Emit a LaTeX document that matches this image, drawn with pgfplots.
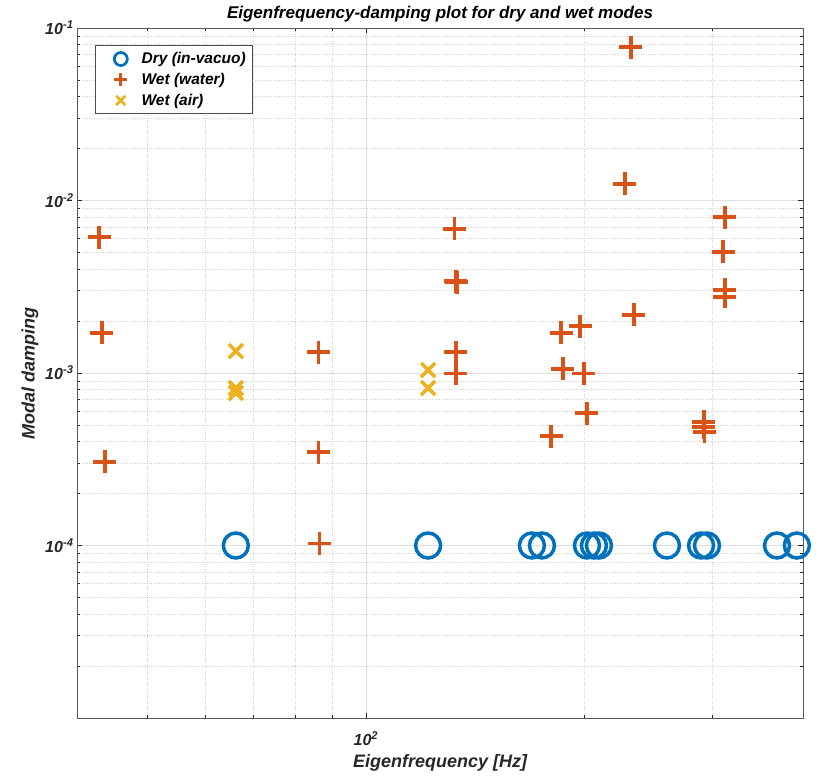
\documentclass[border=0pt]{standalone}
\usepackage{fontspec}
\setmainfont{Liberation Sans}
\usepackage{pgfplots}
\pgfplotsset{compat=1.18}
\definecolor{mblue}{rgb}{0,0.447,0.741}
\definecolor{morange}{rgb}{0.85,0.325,0.098}
\definecolor{myellow}{rgb}{0.929,0.694,0.125}
\definecolor{axgray}{rgb}{0.15,0.15,0.15}
\begin{document}
\begin{tikzpicture}
\begin{axis}[name=ax, scale only axis, width=726pt, height=690pt,
  xmode=log, ymode=log, xmin=40, xmax=400, ymin=1e-5, ymax=1e-1,
  xtick={100}, xticklabels={\bfseries\itshape 10\textsuperscript{2}},
  minor xtick={50,60,70,80,90,200,300},
  ytick={1e-4,1e-3,1e-2,1e-1},
  yticklabels={\bfseries\itshape 10\textsuperscript{-4},\bfseries\itshape 10\textsuperscript{-3},\bfseries\itshape 10\textsuperscript{-2},\bfseries\itshape 10\textsuperscript{-1}},
  minor ytick={2e-5,3e-5,4e-5,5e-5,6e-5,7e-5,8e-5,9e-5,2e-4,3e-4,4e-4,5e-4,6e-4,7e-4,8e-4,9e-4,2e-3,3e-3,4e-3,5e-3,6e-3,7e-3,8e-3,9e-3,2e-2,3e-2,4e-2,5e-2,6e-2,7e-2,8e-2,9e-2},
  grid=both, major grid style={gray!25, line width=0.6pt},
  minor grid style={gray!35, dotted, line width=0.6pt},
  tick align=inside, xtick pos=both, ytick pos=both,
  major tick length=5pt, minor tick length=3pt,
  every tick/.style={axgray, line width=0.6pt},
  axis line style={gray!70!black, line width=0.8pt},
  tick label style={font=\fontsize{16}{18}\selectfont, text=axgray},
  xticklabel style={yshift=-10pt},
  title={\bfseries\itshape Eigenfrequency-damping plot for dry and wet modes},
  title style={font=\fontsize{17}{19}\selectfont, yshift=-4pt},
  xlabel={\bfseries\itshape Eigenfrequency [Hz]},
  ylabel={\bfseries\itshape Modal damping},
  label style={font=\fontsize{18}{20}\selectfont, text=axgray},
  xlabel style={yshift=-2pt},
  legend style={at={(0.025,0.975)}, anchor=north west, draw=gray!60!black, line width=0.8pt,
    font=\bfseries\itshape\fontsize{15.5}{18}\selectfont, text=black, inner xsep=5pt, inner ysep=5pt,
    row sep=4pt},
  legend cell align=left,
  legend image code/.code={\draw[#1, mark size=6.5pt, line width=2.7pt] plot coordinates {(0.65cm,0cm)};\path (0cm,0cm) (1.25cm,0cm);},
  clip=false
]
\addplot[only marks, mark=o, color=mblue, line width=3.5pt, mark size=12.5pt] coordinates {
(66.2,1e-4) (121.8,1e-4) (169.3,1e-4) (174.8,1e-4) (201.6,1e-4) (206.1,1e-4) (209.4,1e-4)
(259.8,1e-4) (289.5,1e-4) (295.0,1e-4) (368.4,1e-4) (392.4,1e-4)
};
\addlegendentry{Dry (in-vacuo)}
\addplot[only marks, mark=+, color=morange, line width=3.5pt, mark size=11.5pt] coordinates {
(42.9,0.00614) (43.3,0.00171) (43.7,0.000305)
(86.0,0.00132) (86.0,0.000348) (86.3,0.000103)
(132.5,0.00684) (133.0,0.00341) (133.4,0.00336) (133.0,0.00132) (133.0,0.000993)
(179.9,0.000431) (185.7,0.00171) (186.8,0.001055) (197.2,0.00187) (199.7,0.000993) (201.6,0.000586)
(227.4,0.01247) (231.8,0.0776) (234.0,0.00217)
(292.0,0.00052) (292.0,0.000486) (292.5,0.000455)
(312.3,0.00802) (310.4,0.00503) (312.3,0.00303) (312.3,0.00276)
};
\addlegendentry{Wet (water)}
\addplot[only marks, mark=x, color=myellow, line width=3.5pt, mark size=10pt] coordinates {
(66.2,0.00134) (66.2,0.000818) (66.2,0.000766) (121.8,0.00104) (121.8,0.000818)
};
\addlegendentry{Wet (air)}
\end{axis}
\path ([xshift=-77pt,yshift=-60pt]ax.south west) rectangle ([xshift=17pt,yshift=28pt]ax.north east);
\end{tikzpicture}
\end{document}
